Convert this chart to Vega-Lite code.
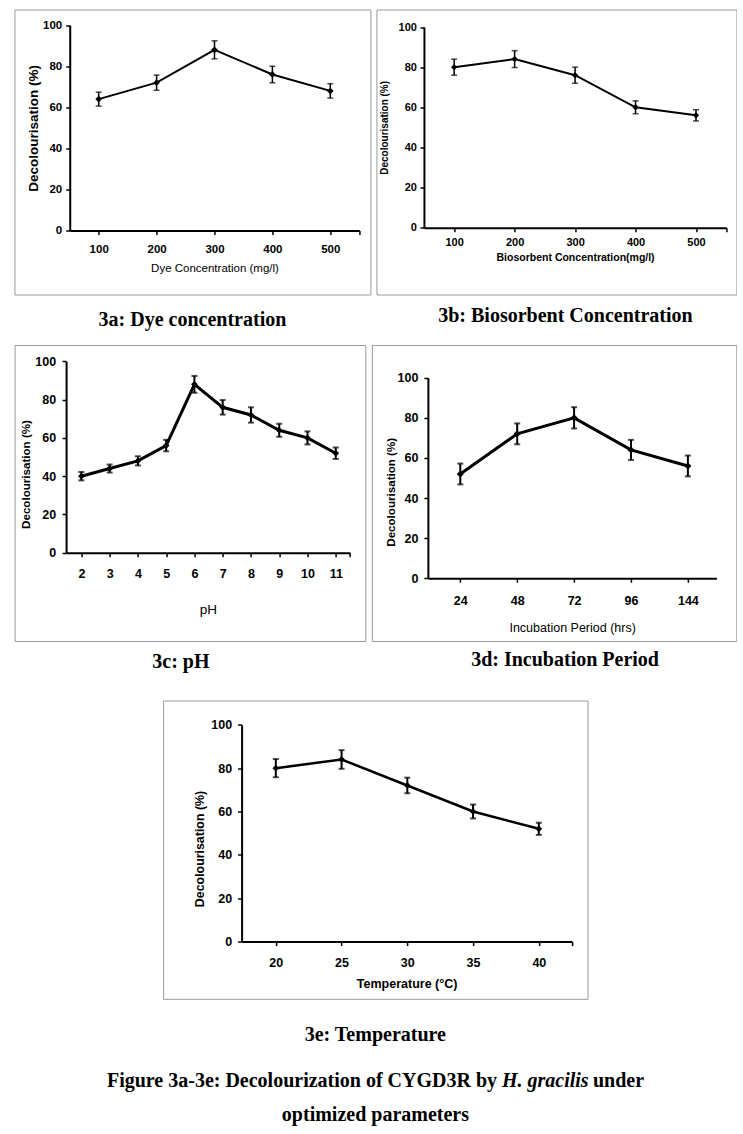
{
  "$schema": "https://vega.github.io/schema/vega-lite/v6.json",
  "background": "white",
  "padding": {"left": 13, "top": 8.5, "right": 0, "bottom": 0},
  "title": {"text": "optimized parameters", "orient": "bottom", "anchor": "middle", "offset": -3.5, "fontSize": 20},
  "datasets": {
    "dye": [
      {"dye": 100, "decolourisation": 64, "sd": 3.4},
      {"dye": 200, "decolourisation": 72, "sd": 3.7},
      {"dye": 300, "decolourisation": 88, "sd": 4.4},
      {"dye": 400, "decolourisation": 76, "sd": 4.0},
      {"dye": 500, "decolourisation": 68, "sd": 3.5}
    ],
    "bio": [
      {"biosorbent": 100, "decolourisation": 80, "sd": 4.0},
      {"biosorbent": 200, "decolourisation": 84, "sd": 4.2},
      {"biosorbent": 300, "decolourisation": 76, "sd": 4.0},
      {"biosorbent": 400, "decolourisation": 60, "sd": 3.2},
      {"biosorbent": 500, "decolourisation": 56, "sd": 2.8}
    ],
    "ph": [
      {"pH": 2, "decolourisation": 40, "sd": 2.2},
      {"pH": 3, "decolourisation": 44, "sd": 2.1},
      {"pH": 4, "decolourisation": 48, "sd": 2.4},
      {"pH": 5, "decolourisation": 56, "sd": 3.0},
      {"pH": 6, "decolourisation": 88, "sd": 4.4},
      {"pH": 7, "decolourisation": 76, "sd": 3.8},
      {"pH": 8, "decolourisation": 72, "sd": 4.0},
      {"pH": 9, "decolourisation": 64, "sd": 3.4},
      {"pH": 10, "decolourisation": 60, "sd": 3.4},
      {"pH": 11, "decolourisation": 52, "sd": 3.0}
    ],
    "inc": [
      {"hours": 24, "decolourisation": 52, "sd": 5.2},
      {"hours": 48, "decolourisation": 72, "sd": 5.2},
      {"hours": 72, "decolourisation": 80, "sd": 5.3},
      {"hours": 96, "decolourisation": 64, "sd": 5.0},
      {"hours": 144, "decolourisation": 56, "sd": 5.2}
    ],
    "temp": [
      {"temperature": 20, "decolourisation": 80, "sd": 4.2},
      {"temperature": 25, "decolourisation": 84, "sd": 4.3},
      {"temperature": 30, "decolourisation": 72, "sd": 3.6},
      {"temperature": 35, "decolourisation": 60, "sd": 3.2},
      {"temperature": 40, "decolourisation": 52, "sd": 2.8}
    ],
    "none": []
  },
  "vconcat": [
    {
      "vconcat": [
        {
          "vconcat": [
            {
              "hconcat": [
                {
                  "width": 356, "height": 285,
                  "data": {"name": "dye"},
                  "title": {"text": "3a: Dye concentration", "orient": "bottom", "offset": 15},
                  "encoding": {
                    "x": {"field": "dye", "type": "quantitative",
                      "scale": {"domain": [50, 550], "range": [55.3, 344.8], "nice": false, "zero": false},
                      "axis": {"values": [100, 200, 300, 400, 500, 550], "labelExpr": "datum.value == 550 ? '' : datum.label", "offset": -64,
                        "title": "Dye Concentration (mg/l)", "labelFontSize": 11.5, "labelPadding": 9,
                        "titleFontSize": 11.5, "titleFontWeight": "normal", "titlePadding": 7}},
                    "y": {"field": "decolourisation", "type": "quantitative",
                      "scale": {"domain": [0, 100], "range": [221, 15.7], "nice": false},
                      "axis": {"values": [0, 20, 40, 60, 80, 100], "offset": -55.3, "title": "Decolourisation (%)",
                        "labelFontSize": 11.5, "labelPadding": 4, "titleFontSize": 13.5, "titlePadding": 2}}
                  },
                  "layer": [
                    {"mark": {"type": "errorbar", "color": "black", "thickness": 1.5, "ticks": {"size": 6, "thickness": 1.5, "color": "black"}},
                     "encoding": {"yError": {"field": "sd"}}},
                    {"mark": {"type": "line", "color": "black", "strokeWidth": 2,
                      "point": {"shape": "diamond", "filled": true, "size": 45, "color": "black"}}}
                  ]
                },
                {
                  "width": 360, "height": 285,
                  "data": {"name": "bio"},
                  "title": {"text": "3b: Biosorbent Concentration", "orient": "bottom", "offset": 11, "dx": 9},
                  "encoding": {
                    "x": {"field": "biosorbent", "type": "quantitative",
                      "scale": {"domain": [50, 550], "range": [47.5, 349.8], "nice": false, "zero": false},
                      "axis": {"values": [100, 200, 300, 400, 500, 550], "labelExpr": "datum.value == 550 ? '' : datum.label", "offset": -66.8,
                        "title": "Biosorbent Concentration(mg/l)", "labelFontSize": 11, "labelPadding": 5,
                        "titleFontSize": 10.5, "titleFontWeight": "bold", "titlePadding": 5}},
                    "y": {"field": "decolourisation", "type": "quantitative",
                      "scale": {"domain": [0, 100], "range": [218.2, 17.5], "nice": false},
                      "axis": {"values": [0, 20, 40, 60, 80, 100], "offset": -47.5, "title": "Decolourisation (%)",
                        "labelFontSize": 11, "labelPadding": 3.5, "titleFontSize": 10, "titlePadding": 9}}
                  },
                  "layer": [
                    {"mark": {"type": "errorbar", "color": "black", "thickness": 1.5, "ticks": {"size": 6, "thickness": 1.5, "color": "black"}},
                     "encoding": {"yError": {"field": "sd"}}},
                    {"mark": {"type": "line", "color": "black", "strokeWidth": 2,
                      "point": {"shape": "diamond", "filled": true, "size": 40, "color": "black"}}}
                  ]
                }
              ],
              "spacing": 4
            },
            {
              "hconcat": [
                {
                  "width": 350.7, "height": 296,
                  "data": {"name": "ph"},
                  "title": {"text": "3c: pH", "orient": "bottom", "offset": 11, "dx": -9},
                  "encoding": {
                    "x": {"field": "pH", "type": "quantitative",
                      "scale": {"domain": [1.46, 11.5], "range": [51.5, 335.3], "nice": false, "zero": false},
                      "axis": {"values": [2, 3, 4, 5, 6, 7, 8, 9, 10, 11, 11.5], "labelExpr": "datum.value == 11.5 ? '' : datum.label", "offset": -88.3,
                        "title": "pH", "labelFontSize": 12.5, "labelPadding": 11,
                        "titleFontSize": 13.5, "titleFontWeight": "normal", "titlePadding": 22}},
                    "y": {"field": "decolourisation", "type": "quantitative",
                      "scale": {"domain": [0, 100], "range": [207.7, 16.4], "nice": false},
                      "axis": {"values": [0, 20, 40, 60, 80, 100], "offset": -51.5, "title": "Decolourisation (%)",
                        "labelFontSize": 12.5, "labelPadding": 6.5, "titleFontSize": 11.6, "titlePadding": 3, "titleY": 129}}
                  },
                  "layer": [
                    {"mark": {"type": "errorbar", "color": "black", "thickness": 2, "ticks": {"size": 6, "thickness": 2, "color": "black"}},
                     "encoding": {"yError": {"field": "sd"}}},
                    {"mark": {"type": "line", "color": "black", "strokeWidth": 3,
                      "point": {"shape": "diamond", "filled": true, "size": 45, "color": "black"}}}
                  ]
                },
                {
                  "width": 364.4, "height": 296,
                  "data": {"name": "inc"},
                  "title": {"text": "3d: Incubation Period", "orient": "bottom", "offset": 9, "dx": 11},
                  "encoding": {
                    "x": {"field": "hours", "type": "ordinal",
                      "scale": {"type": "point", "range": [56, 344.5], "padding": 0.535, "align": 0.532},
                      "axis": {"labelAngle": 0, "offset": -62.7,
                        "title": "Incubation Period (hrs)", "labelFontSize": 12.5, "labelPadding": 12,
                        "titleFontSize": 12.5, "titleFontWeight": "normal", "titlePadding": 15}},
                    "y": {"field": "decolourisation", "type": "quantitative",
                      "scale": {"domain": [0, 100], "range": [233.3, 32.7], "nice": false},
                      "axis": {"values": [0, 20, 40, 60, 80, 100], "offset": -56, "title": "Decolourisation (%)",
                        "labelFontSize": 12.5, "labelPadding": 6, "titleFontSize": 11.6, "titlePadding": 1, "titleY": 146.8}}
                  },
                  "layer": [
                    {"mark": {"type": "errorbar", "color": "black", "thickness": 2, "ticks": {"size": 6, "thickness": 2, "color": "black"}},
                     "encoding": {"yError": {"field": "sd"}}},
                    {"mark": {"type": "line", "color": "black", "strokeWidth": 3,
                      "point": {"shape": "diamond", "filled": true, "size": 50, "color": "black"}}}
                  ]
                }
              ],
              "spacing": 4.3
            }
          ],
          "spacing": 13.5,
          "center": true
        },
        {
          "width": 424.4, "height": 298.3,
          "data": {"name": "temp"},
          "title": {"text": "3e: Temperature", "orient": "bottom", "offset": 26},
          "encoding": {
            "x": {"field": "temperature", "type": "quantitative",
              "scale": {"domain": [17.4, 42.5], "range": [78.5, 408.6], "nice": false, "zero": false},
              "axis": {"values": [20, 25, 30, 35, 40, 42.5], "labelExpr": "datum.value == 42.5 ? '' : datum.label", "offset": -57.3,
                "title": "Temperature (°C)", "labelFontSize": 12.5, "labelPadding": 11,
                "titleFontSize": 12.5, "titleFontWeight": "bold", "titlePadding": 8}},
            "y": {"field": "decolourisation", "type": "quantitative",
              "scale": {"domain": [0, 100], "range": [241, 24.3], "nice": false},
              "axis": {"values": [0, 20, 40, 60, 80, 100], "offset": -78.5, "title": "Decolourisation (%)",
                "labelFontSize": 12.5, "labelPadding": 6, "titleFontSize": 12.4, "titlePadding": 4, "titleY": 148}}
          },
          "layer": [
            {"mark": {"type": "errorbar", "color": "black", "thickness": 2, "ticks": {"size": 6, "thickness": 2, "color": "black"}},
             "encoding": {"yError": {"field": "sd"}}},
            {"mark": {"type": "line", "color": "black", "strokeWidth": 2.5,
              "point": {"shape": "diamond", "filled": true, "size": 45, "color": "black"}}}
          ]
        }
      ],
      "spacing": 27,
      "center": true
    },
    {
      "hconcat": [
        {"width": 1, "height": 1, "view": {"stroke": null}, "data": {"name": "none"}, "mark": {"type": "point", "opacity": 0},
         "title": {"text": "Figure 3a-3e: Decolourization of CYGD3R by", "orient": "top", "anchor": "start", "offset": 0, "baseline": "alphabetic", "fontSize": 20}},
        {"width": 1, "height": 1, "view": {"stroke": null}, "data": {"name": "none"}, "mark": {"type": "point", "opacity": 0},
         "title": {"text": "H. gracilis", "orient": "top", "anchor": "start", "offset": 0, "baseline": "alphabetic", "fontSize": 20, "fontStyle": "italic"}},
        {"width": 1, "height": 1, "view": {"stroke": null}, "data": {"name": "none"}, "mark": {"type": "point", "opacity": 0},
         "title": {"text": "under", "orient": "top", "anchor": "start", "offset": 0, "baseline": "alphabetic", "fontSize": 20}}
      ],
      "spacing": 4
    }
  ],
  "spacing": 25.6,
  "center": true,
  "config": {
    "view": {"stroke": "#9a9a9a", "strokeWidth": 1},
    "axis": {
      "grid": false,
      "domainColor": "black", "domainWidth": 2,
      "tickColor": "black", "tickWidth": 1.5, "tickSize": 4,
      "labelColor": "black", "titleColor": "black",
      "labelFont": "Liberation Sans",
      "titleFont": "Liberation Sans",
      "labelFontWeight": "bold", "titleFontWeight": "bold",
      "labelOverlap": false, "labelFlush": false
    },
    "title": {"font": "Liberation Serif", "fontWeight": "bold", "fontSize": 20, "color": "black"}
  }
}
